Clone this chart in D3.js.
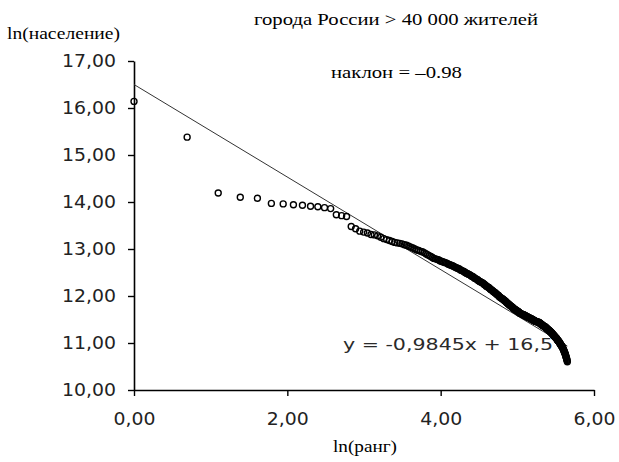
<!DOCTYPE html>
<html>
<head>
<meta charset="utf-8">
<script src="https://cdn.jsdelivr.net/npm/d3@7"></script>
<style>
  body { margin: 0; background: #fff; }
</style>
</head>
<body>
<svg id="svg-canvas" width="619" height="462"></svg>
<script>
// ln(население) по рангу, ранг = индекс + 1
const lnPop = [
  16.14, 15.38, 14.19, 14.10, 14.08, 13.97, 13.96, 13.94, 13.93, 13.91,
  13.90, 13.88, 13.86, 13.73, 13.71, 13.69, 13.48, 13.43, 13.38, 13.36,
  13.34, 13.31, 13.30, 13.28, 13.25, 13.22, 13.20, 13.18, 13.16, 13.14,
  13.13, 13.12, 13.11, 13.09, 13.08, 13.06, 13.04, 13.02, 13.00, 12.98,
  12.97, 12.95, 12.94, 12.92, 12.90, 12.88, 12.86, 12.84, 12.82, 12.80,
  12.79, 12.78, 12.77, 12.75, 12.74, 12.73, 12.72, 12.71, 12.70, 12.68,
  12.67, 12.66, 12.65, 12.64, 12.63, 12.61, 12.60, 12.59, 12.58, 12.57,
  12.55, 12.54, 12.53, 12.52, 12.50, 12.49, 12.48, 12.47, 12.46, 12.45,
  12.43, 12.42, 12.41, 12.40, 12.38, 12.37, 12.36, 12.35, 12.33, 12.32,
  12.31, 12.30, 12.29, 12.28, 12.27, 12.25, 12.24, 12.23, 12.21, 12.20,
  12.19, 12.18, 12.17, 12.15, 12.14, 12.13, 12.12, 12.10, 12.09, 12.08,
  12.07, 12.06, 12.04, 12.03, 12.02, 12.01, 11.99, 11.98, 11.97, 11.96,
  11.95, 11.94, 11.93, 11.92, 11.91, 11.90, 11.89, 11.88, 11.86, 11.85,
  11.84, 11.83, 11.82, 11.81, 11.80, 11.79, 11.78, 11.77, 11.76, 11.75,
  11.74, 11.73, 11.72, 11.71, 11.71, 11.70, 11.69, 11.68, 11.67, 11.67,
  11.66, 11.65, 11.64, 11.63, 11.63, 11.62, 11.62, 11.61, 11.61, 11.60,
  11.60, 11.59, 11.59, 11.58, 11.58, 11.57, 11.57, 11.56, 11.56, 11.55,
  11.55, 11.54, 11.54, 11.53, 11.53, 11.52, 11.52, 11.51, 11.51, 11.50,
  11.50, 11.49, 11.49, 11.48, 11.48, 11.47, 11.47, 11.46, 11.46, 11.46,
  11.45, 11.45, 11.45, 11.44, 11.44, 11.44, 11.43, 11.43, 11.42, 11.42,
  11.41, 11.40, 11.40, 11.39, 11.39, 11.38, 11.37, 11.37, 11.36, 11.36,
  11.35, 11.35, 11.34, 11.34, 11.33, 11.32, 11.32, 11.31, 11.30, 11.30,
  11.29, 11.28, 11.28, 11.27, 11.26, 11.26, 11.25, 11.24, 11.24, 11.23,
  11.22, 11.22, 11.21, 11.20, 11.19, 11.18, 11.17, 11.17, 11.16, 11.15,
  11.14, 11.14, 11.13, 11.12, 11.11, 11.11, 11.10, 11.09, 11.08, 11.07,
  11.06, 11.05, 11.05, 11.04, 11.03, 11.02, 11.01, 11.00, 10.99, 10.98,
  10.97, 10.96, 10.95, 10.94, 10.93, 10.92, 10.91, 10.90, 10.89, 10.87,
  10.86, 10.84, 10.83, 10.81, 10.80, 10.78, 10.77, 10.75, 10.73, 10.71,
  10.69, 10.67, 10.65, 10.63, 10.60
];

const xTicks = [0, 2, 4, 6];
const yTicks = [10, 11, 12, 13, 14, 15, 16, 17];

// линия тренда y = -0,9845x + 16,5
const trendSlope = -0.9845;
const trendIntercept = 16.5;

const points = lnPop.map((v, i) => ({ x: Math.log(i + 1), y: v }));

const x = d3.scaleLinear().domain([0, 6]).range([134, 594]);
const y = d3.scaleLinear().domain([10, 17]).range([390, 61]);

const svg = d3.select('#svg-canvas');
const comma = d => d3.format('.2f')(d).replace('.', ',');

// axes
const gx = svg.append('g')
  .attr('transform', 'translate(0, 390)')
  .call(d3.axisBottom(x).tickValues(xTicks).tickFormat(comma)
    .tickSize(6).tickSizeOuter(0).tickPadding(16));

const gy = svg.append('g')
  .attr('transform', 'translate(134, 0)')
  .call(d3.axisLeft(y).tickValues(yTicks).tickFormat(comma)
    .tickSize(6).tickSizeOuter(0).tickPadding(12));

[gx, gy].forEach(g => {
  g.select('.domain').attr('stroke', '#000').attr('stroke-width', 1.6);
  g.selectAll('.tick line').attr('stroke', '#000').attr('stroke-width', 1.4);
  g.selectAll('.tick text')
    .attr('fill', '#222')
    .style('font-family', '"DejaVu Sans", Verdana, sans-serif')
    .style('font-size', '18px');
});
gy.selectAll('.tick text').attr('textLength', 54).attr('lengthAdjust', 'spacingAndGlyphs');
gx.selectAll('.tick text').attr('textLength', 42).attr('lengthAdjust', 'spacingAndGlyphs');

// equation label, under the points
svg.append('text')
  .attr('x', 343)
  .attr('y', 350)
  .attr('textLength', 210)
  .attr('lengthAdjust', 'spacingAndGlyphs')
  .attr('fill', '#2a2a2a')
  .style('font-family', '"DejaVu Sans", Verdana, sans-serif')
  .style('font-size', '16px')
  .text('y = -0,9845x + 16,5');

// trend line
const xMax = d3.max(points, d => d.x);
svg.append('line')
  .attr('x1', x(0))
  .attr('y1', y(trendIntercept))
  .attr('x2', x(xMax))
  .attr('y2', y(trendSlope * xMax + trendIntercept))
  .attr('stroke', '#333')
  .attr('stroke-width', 1);

// points
svg.append('g')
  .selectAll('circle')
  .data(points)
  .join('circle')
  .attr('cx', d => x(d.x))
  .attr('cy', d => y(d.y))
  .attr('r', 3)
  .attr('fill', 'none')
  .attr('stroke', '#000')
  .attr('stroke-width', 1.4);

// texts
const serif = 'Liberation Serif, "Times New Roman", serif';

svg.append('text')
  .attr('x', 7).attr('y', 39)
  .attr('textLength', 113).attr('lengthAdjust', 'spacingAndGlyphs')
  .style('font-family', serif).style('font-size', '17px')
  .text('ln(население)');

svg.append('text')
  .attr('x', 254).attr('y', 25)
  .attr('textLength', 284).attr('lengthAdjust', 'spacingAndGlyphs')
  .style('font-family', serif).style('font-size', '17px')
  .text('города России > 40 000 жителей');

svg.append('text')
  .attr('x', 331).attr('y', 78)
  .attr('textLength', 131).attr('lengthAdjust', 'spacingAndGlyphs')
  .style('font-family', serif).style('font-size', '17px')
  .text('наклон = –0.98');

svg.append('text')
  .attr('x', 333).attr('y', 452)
  .attr('textLength', 64).attr('lengthAdjust', 'spacingAndGlyphs')
  .style('font-family', serif).style('font-size', '17px')
  .text('ln(ранг)');
</script>
</body>
</html>
